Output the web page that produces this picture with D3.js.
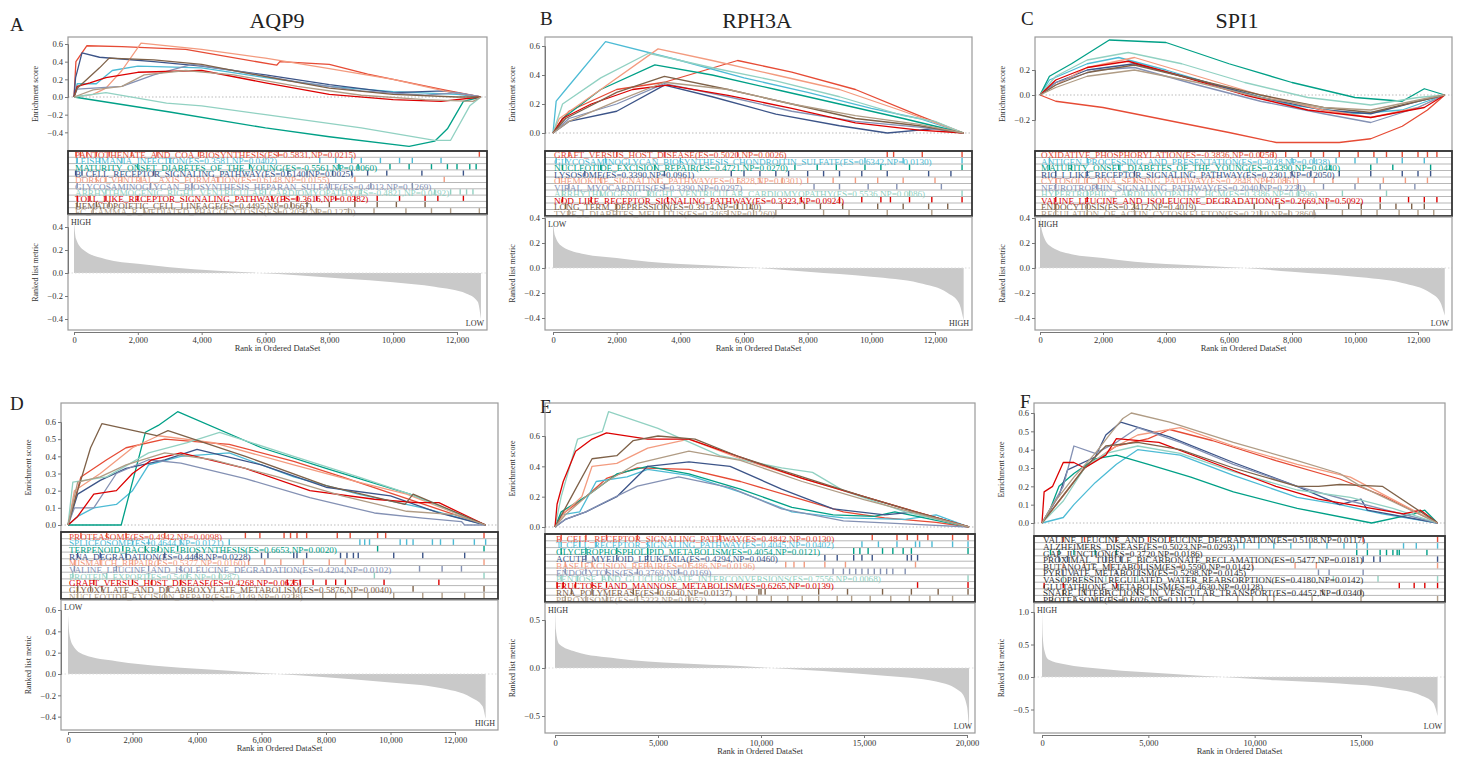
<!DOCTYPE html>
<html>
<head>
<meta charset="utf-8">
<script src="https://cdn.jsdelivr.net/npm/d3@7"></script>
<style>
body { margin: 0; background: #fff; }
svg { font-family: "Liberation Serif", "Times New Roman", serif; }
.axis text { font-size: 8.5px; fill: #333; font-family: "Liberation Serif", serif; }
.axis path, .axis line { stroke: #777; }
</style>
</head>
<body>
<svg id="fig" width="1465" height="769"></svg>
<script>
// npg palette, one colour per gene set row
var setColors = ["#E64B35", "#4DBBD5", "#00A087", "#3C5488", "#F39B7F", "#8491B4", "#91D1C2", "#DC0000", "#7E6148", "#B09C85"];

var rankTicks12k = [0, 2000, 4000, 6000, 8000, 10000, 12000];
var rankTicks20k = [0, 5000, 10000, 15000, 20000];
var rankTicks15k = [0, 5000, 10000, 15000];
var esTicksA = [-0.4, -0.2, 0, 0.2, 0.4, 0.6];
var esTicksB = [0, 0.2, 0.4, 0.6];
var esTicksC = [-0.2, 0, 0.2];
var esTicksD = [0, 0.1, 0.2, 0.3, 0.4, 0.5, 0.6];
var esTicksE = [0, 0.2, 0.4, 0.6];
var esTicksF = [0, 0.1, 0.2, 0.3, 0.4, 0.5, 0.6];
var metTicks4 = [-0.4, -0.2, 0, 0.2, 0.4];
var metTicksD = [-0.4, -0.2, 0, 0.2, 0.4, 0.6];
var metTicksE = [-0.5, 0, 0.5];
var metTicksF = [-0.5, 0, 0.5, 1.0];

// ---------- A: AQP9 ----------
var aqp9Sets = [
    "PANTOTHENATE_AND_COA_BIOSYNTHESIS(ES=0.5831,NP=0.0215)",
    "LEISHMANIA_INFECTION(ES=0.3581,NP=0.0402)",
    "MATURITY_ONSET_DIABETES_OF_THE_YOUNG(ES=-0.5561,NP=0.0060)",
    "B_CELL_RECEPTOR_SIGNALING_PATHWAY(ES=0.5140,NP=0.0025)",
    "DORSO_VENTRAL_AXIS_FORMATION(ES=0.6148,NP=0.0155)",
    "GLYCOSAMINOGLYCAN_BIOSYNTHESIS_HEPARAN_SULFATE(ES=0.4013,NP=0.1269)",
    "ARRHYTHMOGENIC_RIGHT_VENTRICULAR_CARDIOMYOPATHY(ES=-0.4821,NP=0.0492)",
    "TOLL_LIKE_RECEPTOR_SIGNALING_PATHWAY(ES=0.3616,NP=0.0382)",
    "HEMATOPOIETIC_CELL_LINEAGE(ES=0.4495,NP=0.0667)",
    "FC_GAMMA_R_MEDIATED_PHAGOCYTOSIS(ES=0.3053,NP=0.1270)"
];
var aqp9Curves = [
    [[0,0],[60,0.4],[400,0.58],[1500,0.57],[3500,0.54],[6350,0.36],[6450,0.40],[8000,0.37],[9200,0.26],[10000,0.2],[11600,0.08],[12750,0]],
    [[0,0],[100,0.15],[700,0.15],[1200,0.3],[2000,0.35],[4000,0.33],[6000,0.22],[8000,0.12],[10000,0.06],[12000,0.03],[12750,0]],
    [[0,0],[3000,-0.17],[6000,-0.35],[8000,-0.45],[10500,-0.56],[11300,-0.5],[11700,-0.36],[12200,-0.05],[12750,0]],
    [[0,0],[50,0.22],[250,0.5],[800,0.45],[2500,0.4],[4000,0.35],[6000,0.25],[8000,0.14],[10000,0.05],[11600,0.07],[12750,0]],
    [[0,0],[600,0.03],[1000,0.1],[1500,0.3],[2100,0.61],[4000,0.54],[6000,0.44],[8000,0.32],[10000,0.2],[11600,0.07],[12750,0]],
    [[0,0],[100,0.09],[1500,0.12],[2500,0.25],[3700,0.37],[5000,0.3],[7000,0.17],[9000,0.07],[11000,0.02],[12000,0.05],[12750,0]],
    [[0,0],[1000,0.05],[2900,-0.07],[4000,-0.1],[6000,-0.2],[9000,-0.35],[11300,-0.49],[11800,-0.49],[12400,-0.1],[12750,0]],
    [[0,0],[100,0.12],[500,0.16],[1000,0.22],[2000,0.28],[4000,0.3],[6000,0.16],[8000,0.03],[10000,-0.03],[11500,-0.05],[12750,0]],
    [[0,0],[100,0.1],[800,0.33],[1100,0.44],[2500,0.42],[4000,0.37],[6000,0.23],[8000,0.1],[10000,0.03],[12000,0.0],[12750,0]],
    [[0,0],[600,0.08],[1500,0.12],[2200,0.25],[3500,0.3],[5000,0.25],[7000,0.12],[9000,0.02],[11000,-0.03],[12500,-0.05],[12750,0]]
];
var aqp9Hits = [
    [60, 200, 400, 700, 1100, 1800, 2600, 3900, 6400, 12700],
    [100, 800, 1500, 3000, 7700, 8200, 8700, 9000, 9600, 10200, 10600, 11500],
    [2000, 5500, 8300, 8900, 9900, 10500, 11200, 11700, 12000, 12400, 12600],
    [50, 250, 2500, 6700, 7300, 8100, 8700, 9200, 9800, 10900, 12200],
    [700, 1000, 1500, 2100, 4500, 8800, 11600],
    [100, 2400, 3700, 8000, 9300, 10600],
    [1000, 6000, 9000, 11300, 11800, 12100, 12300, 12500],
    [100, 500, 1000, 2000, 6200, 6600, 7000, 7600, 8200, 8800, 9500, 10200, 11000, 11400, 12200],
    [100, 700, 1100, 6800, 7300, 8000, 8800, 9500, 10100, 11000],
    [600, 2200, 6400, 7200, 7600, 8600, 9400, 10400, 11200, 11800, 12700]
];
var aqp9Metric = [[0,0.44],[60,0.3],[300,0.2],[1000,0.12],[2000,0.08],[3000,0.05],[4500,0.02],[5800,0.0],[7000,-0.02],[8500,-0.05],[10000,-0.08],[11300,-0.12],[12300,-0.18],[12650,-0.25],[12750,-0.4]];

// ---------- B: RPH3A ----------
var rph3aSets = [
    "GRAFT_VERSUS_HOST_DISEASE(ES=0.5020,NP=0.0026)",
    "GLYCOSAMINOGLYCAN_BIOSYNTHESIS_CHONDROITIN_SULFATE(ES=0.6342,NP=0.0130)",
    "NUCLEOTIDE_EXCISION_REPAIR(ES=0.4721,NP=0.0270)",
    "LYSOSOME(ES=0.3390,NP=0.0961)",
    "CHEMOKINE_SIGNALING_PATHWAY(ES=0.5828,NP=0.0301)",
    "VIRAL_MYOCARDITIS(ES=0.3390,NP=0.0297)",
    "ARRHYTHMOGENIC_RIGHT_VENTRICULAR_CARDIOMYOPATHY(ES=0.5536,NP=0.0086)",
    "NOD_LIKE_RECEPTOR_SIGNALING_PATHWAY(ES=0.3323,NP=0.0924)",
    "LONG_TERM_DEPRESSION(ES=0.3914,NP=0.1140)",
    "TYPE_I_DIABETES_MELLITUS(ES=0.3465,NP=0.1260)"
];
var rph3aCurves = [
    [[0,0],[500,0.15],[2000,0.3],[3500,0.35],[5800,0.5],[7500,0.42],[9500,0.3],[11500,0.12],[12900,0]],
    [[0,0],[100,0.22],[400,0.3],[1650,0.63],[4000,0.5],[6000,0.38],[8000,0.28],[10000,0.17],[11500,0.1],[12900,0]],
    [[0,0],[300,0.1],[1500,0.3],[3200,0.47],[5000,0.4],[7000,0.3],[9000,0.2],[11000,0.1],[12900,0]],
    [[0,0],[500,0.08],[2000,0.15],[3500,0.33],[5000,0.25],[7000,0.13],[9000,0.05],[10500,0.0],[12000,0.03],[12900,0]],
    [[0,0],[200,0.1],[1500,0.3],[3300,0.58],[5000,0.5],[7000,0.4],[9000,0.3],[11000,0.15],[12900,0]],
    [[0,0],[500,0.1],[2000,0.2],[3500,0.34],[5500,0.25],[7500,0.15],[9500,0.08],[11500,0.04],[12900,0]],
    [[0,0],[300,0.2],[1500,0.38],[3000,0.55],[5000,0.45],[7000,0.36],[9000,0.25],[11000,0.12],[12000,0.08],[12900,0]],
    [[0,0],[300,0.1],[1200,0.2],[2500,0.3],[3600,0.33],[5500,0.26],[7500,0.17],[9500,0.07],[11500,0.02],[12900,0]],
    [[0,0],[400,0.1],[2000,0.28],[3500,0.39],[5500,0.3],[7500,0.2],[9500,0.1],[11500,0.05],[12900,0]],
    [[0,0],[500,0.08],[2000,0.22],[3500,0.35],[5500,0.3],[7500,0.2],[9500,0.12],[11500,0.06],[12900,0]]
];
var rph3aHits = [
    [500, 2000, 3500, 5800, 10500, 10700, 11600, 12850],
    [100, 400, 1650, 4000, 9800, 11000, 12850],
    [300, 1500, 3200, 7600, 8300, 8900, 9800, 10300, 11200, 12850],
    [1000, 3500, 5600, 6000, 6500, 7000, 7400, 8000, 8500, 9000, 9700, 10500, 11800, 12500],
    [200, 1500, 3300, 5800, 6500, 7200, 8000, 8800, 9500, 10200, 11000, 12000],
    [500, 3500, 8200, 9000, 9900, 10800, 12200],
    [300, 1500, 3000, 11200, 12850],
    [300, 1200, 3600, 7800, 9000, 9700, 10300, 10600, 11200, 11900, 12850],
    [400, 2000, 3500, 5800, 6200, 7200, 7900, 8400, 9100, 10200, 11000, 11800, 12400],
    [500, 2000, 3500, 5500, 6300, 7000, 8500, 9300, 10500, 11900]
];
var rph3aMetric = [[0,0.36],[60,0.26],[300,0.17],[1000,0.11],[2000,0.08],[3000,0.05],[5000,0.02],[6500,0.0],[8000,-0.03],[10000,-0.07],[11500,-0.12],[12400,-0.2],[12750,-0.28],[12900,-0.42]];

// ---------- C: SPI1 ----------
var spi1Sets = [
    "OXIDATIVE_PHOSPHORYLATION(ES=-0.3836,NP=0.0256)",
    "ANTIGEN_PROCESSING_AND_PRESENTATION(ES=0.3028,NP=0.0438)",
    "MATURITY_ONSET_DIABETES_OF_THE_YOUNG(ES=0.4390,NP=0.0440)",
    "RIG_I_LIKE_RECEPTOR_SIGNALING_PATHWAY(ES=0.2301,NP=0.2050)",
    "CYTOSOLIC_DNA_SENSING_PATHWAY(ES=0.2848,NP=0.0861)",
    "NEUROTROPHIN_SIGNALING_PATHWAY(ES=0.2040,NP=0.2231)",
    "HYPERTROPHIC_CARDIOMYOPATHY_HCM(ES=0.3386,NP=0.0596)",
    "VALINE_LEUCINE_AND_ISOLEUCINE_DEGRADATION(ES=0.2669,NP=0.5092)",
    "ENDOCYTOSIS(ES=0.2412,NP=0.4019)",
    "REGULATION_OF_ACTIN_CYTOSKELETON(ES=0.2110,NP=0.2860)"
];
var spi1Curves = [
    [[0,0],[500,-0.05],[2000,-0.1],[4000,-0.2],[6000,-0.3],[7500,-0.38],[9500,-0.38],[10500,-0.35],[11500,-0.25],[12300,-0.12],[12850,0]],
    [[0,0],[300,0.12],[1500,0.25],[2500,0.3],[4000,0.2],[6000,0.05],[8000,-0.08],[10000,-0.15],[11500,-0.12],[12850,0]],
    [[0,0],[300,0.15],[1000,0.25],[2200,0.44],[4000,0.42],[6000,0.25],[8000,0.1],[10000,-0.02],[11500,-0.05],[12200,0.05],[12850,0]],
    [[0,0],[500,0.1],[1500,0.2],[3000,0.25],[5000,0.12],[7000,-0.02],[9000,-0.12],[10500,-0.15],[12000,-0.05],[12850,0]],
    [[0,0],[500,0.08],[1500,0.22],[3000,0.3],[5000,0.15],[7000,0.0],[9000,-0.12],[10500,-0.18],[12000,-0.1],[12850,0]],
    [[0,0],[500,0.1],[1800,0.2],[3000,0.22],[5000,0.08],[7000,-0.05],[9000,-0.15],[10500,-0.22],[12000,-0.1],[12850,0]],
    [[0,0],[500,0.15],[1500,0.28],[2800,0.34],[4500,0.25],[6500,0.1],[8500,-0.02],[10500,-0.08],[12000,-0.02],[12850,0]],
    [[0,0],[500,0.12],[1500,0.22],[2800,0.27],[4500,0.15],[6500,0.0],[8500,-0.12],[10500,-0.18],[12200,-0.1],[12850,0]],
    [[0,0],[500,0.08],[1500,0.18],[3000,0.24],[5000,0.12],[7000,0.0],[9000,-0.1],[10500,-0.14],[12000,-0.05],[12850,0]],
    [[0,0],[500,0.06],[1500,0.15],[3000,0.2],[5000,0.1],[7000,-0.02],[9000,-0.1],[10500,-0.12],[12200,-0.03],[12850,0]]
];
var spi1Hits = [
    [7000, 7400, 7800, 8200, 8600, 9000, 9500, 10100, 10600, 11000, 11500, 12000, 12300, 12600],
    [300, 1500, 8000, 8700, 9400, 10000, 10700, 11500, 12200],
    [300, 1000, 2500, 9200, 10500, 11200, 12400],
    [500, 1500, 3000, 8000, 8600, 9500, 10500, 11500, 12000, 12400],
    [500, 1500, 3000, 7200, 7800, 8700, 9300, 10100, 10900, 11600, 12300],
    [500, 1800, 7000, 8200, 9000, 10000, 10800, 11900],
    [500, 1500, 2800, 8200, 9600, 11000],
    [500, 1500, 10800, 11700, 12200, 12600],
    [500, 1500, 3000, 6800, 7600, 8400, 9100, 9800, 10200, 10800, 11300, 11800, 12200],
    [500, 1500, 3000, 7000, 7900, 8700, 9600, 10200, 10700, 11400, 12000, 12500]
];
var spi1Metric = [[0,0.42],[60,0.3],[300,0.18],[1000,0.11],[2000,0.08],[3000,0.05],[5000,0.02],[6500,0.0],[8000,-0.03],[10000,-0.07],[11500,-0.12],[12400,-0.2],[12700,-0.27],[12850,-0.38]];

// ---------- D ----------
var dSets = [
    "PROTEASOME(ES=0.4942,NP=0.0098)",
    "SPLICEOSOME(ES=0.4644,NP=0.0121)",
    "TERPENOID_BACKBONE_BIOSYNTHESIS(ES=0.6653,NP=0.0020)",
    "RNA_DEGRADATION(ES=0.4468,NP=0.0228)",
    "MISMATCH_REPAIR(ES=0.5377,NP=0.0160)",
    "VALINE_LEUCINE_AND_ISOLEUCINE_DEGRADATION(ES=0.4204,NP=0.0102)",
    "PROTEIN_EXPORT(ES=0.5405,NP=0.0287)",
    "GRAFT_VERSUS_HOST_DISEASE(ES=0.4268,NP=0.0625)",
    "GLYOXYLATE_AND_DICARBOXYLATE_METABOLISM(ES=0.5876,NP=0.0040)",
    "NUCLEOTIDE_EXCISION_REPAIR(ES=0.4149,NP=0.0328)"
];
var dCurves = [
    [[0,0],[400,0.28],[1200,0.38],[1800,0.45],[3000,0.5],[5000,0.47],[7000,0.37],[8500,0.28],[12950,0]],
    [[0,0],[300,0.05],[800,0.1],[1500,0.12],[2000,0.2],[2500,0.35],[3500,0.4],[5000,0.42],[7000,0.28],[9000,0.18],[11000,0.1],[12950,0]],
    [[0,0],[1650,0],[2400,0.54],[2800,0.58],[3400,0.66],[6000,0.45],[8000,0.33],[10600,0.18],[12950,0]],
    [[0,0],[300,0.18],[1000,0.26],[1800,0.33],[3000,0.38],[4000,0.44],[6000,0.35],[8000,0.22],[10000,0.17],[11500,0.07],[12950,0]],
    [[0,0],[200,0.2],[1000,0.3],[2000,0.45],[2800,0.52],[4500,0.48],[7000,0.35],[9000,0.25],[10500,0.18],[12950,0]],
    [[0,0],[200,0.1],[800,0.1],[1500,0.3],[2500,0.38],[3500,0.36],[5500,0.27],[7500,0.16],[9500,0.07],[11000,0.04],[12200,0.02],[12300,0],[12950,0]],
    [[0,0],[150,0.25],[1200,0.28],[2500,0.42],[3700,0.48],[4700,0.54],[7000,0.4],[9000,0.28],[10600,0.18],[12950,0]],
    [[0,0],[300,0.05],[800,0.18],[1500,0.2],[2000,0.3],[2600,0.38],[3500,0.42],[5500,0.33],[7500,0.2],[9500,0.15],[10800,0.13],[11500,0.13],[12950,0]],
    [[0,0],[300,0.2],[700,0.45],[1050,0.59],[2750,0.52],[3100,0.55],[5500,0.4],[8000,0.23],[10450,0.12],[10700,0.18],[12950,0]],
    [[0,0],[300,0.25],[1000,0.28],[1800,0.35],[3000,0.42],[4500,0.38],[6500,0.28],[8500,0.17],[10500,0.08],[12000,0.06],[12950,0]]
];
var dHits = [
    [400, 1200, 1800, 3000, 5500, 5950, 6700, 6900, 7100, 7400, 8350, 8750, 9600, 9850, 12900],
    [2000, 2500, 3500, 5000, 9050, 9200, 9350, 10300, 10500, 10700, 11300, 11550, 11950, 12600, 12950],
    [1700, 2400, 2800, 3400, 9600, 12900],
    [300, 1000, 1800, 3000, 4000, 6000, 6200, 7000, 7100, 7400, 8450, 8650, 8850, 9000, 10100, 11000, 12300],
    [200, 1000, 2000, 2800, 5600, 6100, 6600, 7300, 8100, 8600, 12900],
    [200, 1500, 2500, 3500, 10900, 11600, 12200],
    [150, 1200, 2500, 3700, 4700, 9500, 12900],
    [800, 2000, 2600, 3500, 6800, 7000, 7200, 7600, 8000, 8300, 8600, 9800, 11500],
    [300, 700, 1050, 3100, 10700, 12900],
    [300, 1800, 3000, 7000, 7900, 8300, 8800, 9300, 10100, 11000, 11600, 12300, 12900]
];
var dMetric = [[0,0.55],[40,0.38],[150,0.27],[500,0.18],[1500,0.12],[3000,0.07],[5000,0.03],[6500,0.0],[8000,-0.03],[10000,-0.08],[11500,-0.13],[12500,-0.22],[12850,-0.3],[12950,-0.42]];

// ---------- E ----------
var eSets = [
    "B_CELL_RECEPTOR_SIGNALING_PATHWAY(ES=0.4842,NP=0.0130)",
    "T_CELL_RECEPTOR_SIGNALING_PATHWAY(ES=0.4045,NP=0.0402)",
    "GLYCEROPHOSPHOLIPID_METABOLISM(ES=0.4054,NP=0.0121)",
    "ACUTE_MYELOID_LEUKEMIA(ES=0.4294,NP=0.0460)",
    "BASE_EXCISION_REPAIR(ES=0.5486,NP=0.0196)",
    "ENDOCYTOSIS(ES=0.3769,NP=0.0169)",
    "PENTOSE_AND_GLUCURONATE_INTERCONVERSIONS(ES=0.7556,NP=0.0068)",
    "FRUCTOSE_AND_MANNOSE_METABOLISM(ES=0.6265,NP=0.0139)",
    "RNA_POLYMERASE(ES=0.6040,NP=0.0137)",
    "PEROXISOME(ES=0.5323,NP=0.0052)"
];
var eCurves = [
    [[0,0],[300,0.08],[1500,0.2],[2500,0.32],[4000,0.39],[6500,0.38],[9000,0.3],[12000,0.18],[14000,0.1],[16000,0.06],[18500,0.03],[20100,0]],
    [[0,0],[300,0.08],[1200,0.1],[2000,0.3],[3500,0.33],[4500,0.38],[6500,0.34],[9000,0.23],[11500,0.1],[14000,0.06],[17000,0.05],[18500,0.08],[20100,0]],
    [[0,0],[300,0.1],[1500,0.2],[3000,0.35],[4500,0.4],[6500,0.35],[9000,0.25],[11500,0.13],[13500,0.08],[15500,0.07],[16500,0.1],[20100,0]],
    [[0,0],[500,0.05],[1500,0.1],[3000,0.2],[4500,0.4],[6500,0.43],[8500,0.4],[11000,0.25],[13500,0.12],[16000,0.08],[17500,0.1],[20100,0]],
    [[0,0],[500,0.1],[1300,0.2],[1800,0.4],[3000,0.42],[4500,0.52],[6500,0.58],[9000,0.45],[12000,0.32],[15000,0.2],[20100,0]],
    [[0,0],[500,0.05],[1500,0.1],[2500,0.17],[4000,0.27],[6000,0.33],[8500,0.26],[11000,0.12],[14000,0.04],[17000,0.02],[20100,0]],
    [[0,0],[300,0.2],[1100,0.58],[2300,0.63],[2600,0.76],[5000,0.65],[8000,0.47],[11000,0.39],[12500,0.36],[14000,0.24],[17000,0.1],[20100,0]],
    [[0,0],[100,0.15],[400,0.3],[1000,0.5],[1800,0.58],[2500,0.62],[4500,0.58],[6500,0.58],[9000,0.46],[12000,0.32],[15000,0.2],[17500,0.1],[20100,0]],
    [[0,0],[800,0.2],[1800,0.45],[3000,0.47],[3800,0.57],[5000,0.6],[6800,0.58],[9000,0.46],[12000,0.33],[15000,0.2],[17500,0.1],[20100,0]],
    [[0,0],[500,0.08],[1500,0.2],[2500,0.3],[4000,0.42],[6500,0.5],[9000,0.44],[12000,0.3],[15000,0.18],[20100,0]]
];
var eHits = [
    [300, 1500, 2500, 4000, 8000, 15400, 16600, 17100, 17600, 18100, 19300, 20050],
    [300, 1200, 2000, 4500, 14900, 15700, 16600, 17500, 17700, 18300, 19300, 20050],
    [300, 1500, 3000, 4500, 14500, 14800, 15200, 15900, 16400, 16900, 17300, 20050],
    [1500, 3000, 4500, 13100, 13700, 14500, 14900, 15400, 17100, 17300, 17600],
    [500, 1300, 1800, 4500, 6500, 11200, 11600, 12100, 13100, 14100, 17500],
    [500, 1500, 2500, 4000, 6000, 13500, 14000, 14300, 14600, 14900, 15200, 15500, 15800, 16100, 16400, 17000],
    [300, 1100, 2300, 2600, 20050],
    [100, 400, 1000, 1800, 2500, 17600, 20050],
    [800, 1800, 3800, 5000, 9900, 10000, 10200, 12800, 14200, 15900, 17300, 18600, 20050],
    [500, 1500, 2500, 4000, 6500, 8800, 9300, 9800, 10500, 11300, 12000, 12800, 13700, 14400, 15300, 16300, 17200, 18200, 19300]
];
var eMetric = [[0,0.62],[40,0.4],[200,0.25],[1000,0.17],[3000,0.1],[6000,0.05],[9000,0.02],[10500,0],[13000,-0.03],[16000,-0.08],[18500,-0.14],[19700,-0.25],[20000,-0.4],[20100,-0.65]];

// ---------- F ----------
var fSets = [
    "VALINE_LEUCINE_AND_ISOLEUCINE_DEGRADATION(ES=0.5108,NP=0.0117)",
    "ALZHEIMERS_DISEASE(ES=0.5023,NP=0.0293)",
    "GAP_JUNCTION(ES=0.3720,NP=0.0186)",
    "PROXIMAL_TUBULE_BICARBONATE_RECLAMATION(ES=0.5477,NP=0.0181)",
    "BUTANOATE_METABOLISM(ES=0.5590,NP=0.0142)",
    "PYRUVATE_METABOLISM(ES=0.5298,NP=0.0145)",
    "VASOPRESSIN_REGULATED_WATER_REABSORPTION(ES=0.4180,NP=0.0142)",
    "GLUTATHIONE_METABOLISM(ES=0.4630,NP=0.0128)",
    "SNARE_INTERACTIONS_IN_VESICULAR_TRANSPORT(ES=0.4452,NP=0.0340)",
    "PROTEASOME(ES=0.6026,NP=0.1117)"
];
var fCurves = [
    [[0,0],[1000,0.15],[2000,0.3],[3500,0.42],[5000,0.46],[6000,0.51],[8000,0.45],[11000,0.34],[14000,0.24],[16000,0.15],[18600,0]],
    [[0,0],[1000,0.03],[1500,0.1],[2500,0.22],[3500,0.32],[4500,0.4],[6500,0.37],[9000,0.26],[12000,0.14],[14000,0.1],[16000,0.05],[18600,0]],
    [[0,0],[400,0.08],[800,0.2],[1500,0.27],[2500,0.35],[3500,0.37],[5000,0.32],[7000,0.25],[9000,0.17],[12000,0.08],[15500,0.0],[17500,0.05],[18000,0.07],[18600,0]],
    [[0,0],[800,0.15],[1200,0.29],[2500,0.36],[3000,0.48],[3700,0.55],[6000,0.47],[9000,0.33],[12000,0.2],[14000,0.1],[15000,0.13],[15300,0.07],[18600,0]],
    [[0,0],[1000,0.15],[2000,0.3],[3200,0.4],[4500,0.48],[6500,0.52],[9000,0.42],[12000,0.32],[14500,0.25],[18600,0]],
    [[0,0],[1000,0.2],[1500,0.42],[2500,0.38],[3500,0.44],[4500,0.52],[6500,0.44],[9000,0.32],[12000,0.2],[14500,0.12],[18600,0]],
    [[0,0],[1000,0.12],[2000,0.3],[3000,0.38],[4500,0.42],[6500,0.38],[9000,0.28],[12000,0.18],[14500,0.14],[16500,0.08],[18600,0]],
    [[0,0],[100,0.17],[500,0.2],[1000,0.33],[1500,0.33],[2000,0.3],[3000,0.37],[3500,0.46],[5500,0.44],[8000,0.33],[11000,0.2],[13000,0.13],[15500,0.08],[17000,0.05],[17800,0.07],[18600,0]],
    [[0,0],[1000,0.15],[2000,0.3],[3000,0.42],[4500,0.44],[6500,0.4],[9000,0.3],[12000,0.2],[13000,0.2],[14000,0.21],[16000,0.2],[18600,0]],
    [[0,0],[500,0.1],[1500,0.25],[2500,0.38],[3300,0.5],[3800,0.57],[4200,0.6],[6000,0.55],[9000,0.44],[12000,0.34],[14000,0.27],[15000,0.2],[18600,0]]
];
var fHits = [
    [1000, 2000, 3500, 5000, 6000, 15100, 18600],
    [9200, 9500, 10200, 10900, 11700, 12600, 13400, 14200, 14800, 15300, 17000, 17600, 18600],
    [400, 800, 1500, 2500, 3500, 14800, 15300, 15900, 16200, 16500, 16700, 16800, 18100],
    [800, 1200, 3000, 3700, 15100, 15600, 15900, 18600],
    [1000, 2000, 3200, 4500, 6500, 9900, 11900, 12900, 18600],
    [1000, 1500, 3500, 4500, 13000, 13500, 15100],
    [1000, 2000, 3000, 4500, 13700, 15800, 18600],
    [100, 1000, 3500, 16800, 17500, 18000, 18600],
    [1000, 2000, 3000, 4500, 13200, 14000, 15000],
    [500, 1500, 2500, 3300, 3800, 4200, 7570, 9200, 9900, 10600, 10900, 12700, 15000, 18600]
];
var fMetric = [[0,1.0],[40,0.6],[120,0.4],[300,0.27],[1000,0.2],[3000,0.12],[6000,0.05],[8500,0.0],[11000,-0.05],[14000,-0.1],[16500,-0.18],[17800,-0.28],[18400,-0.4],[18600,-0.6]];

// layout of the six panels
var panels = [
    { letter: "A", letterX: 10, letterY: 31, title: "AQP9", titleX: 277, titleY: 28,
      left: 68, right: 487, esTop: 37, legTop: 151, legBottom: 214, metBottom: 330,
      xRef: [0, 12000], xPix: [74, 457], esRef: [0, 0.6], esPix: [97, 44], metRef: [0, 0.4], metPix: [273, 227],
      esTicks: esTicksA, metTicks: metTicks4, xTicks: rankTicks12k,
      names: aqp9Sets, curves: aqp9Curves, hits: aqp9Hits, metric: aqp9Metric, tagTop: "HIGH", tagBottom: "LOW", textColor: null },
    { letter: "B", letterX: 540, letterY: 25, title: "RPH3A", titleX: 757, titleY: 28,
      left: 545, right: 972, esTop: 37, legTop: 151, legBottom: 216, metBottom: 330,
      xRef: [0, 12000], xPix: [553, 935], esRef: [0, 0.6], esPix: [133, 46], metRef: [0, 0.4], metPix: [268, 218],
      esTicks: esTicksB, metTicks: metTicks4, xTicks: rankTicks12k,
      names: rph3aSets, curves: rph3aCurves, hits: rph3aHits, metric: rph3aMetric, tagTop: "LOW", tagBottom: "HIGH", textColor: null },
    { letter: "C", letterX: 1021, letterY: 25, title: "SPI1", titleX: 1237, titleY: 28,
      left: 1035, right: 1452, esTop: 37, legTop: 151, legBottom: 216, metBottom: 330,
      xRef: [0, 12000], xPix: [1040, 1418], esRef: [-0.2, 0.2], esPix: [120, 70], metRef: [0, 0.4], metPix: [268, 218],
      esTicks: esTicksC, metTicks: metTicks4, xTicks: rankTicks12k,
      names: spi1Sets, curves: spi1Curves, hits: spi1Hits, metric: spi1Metric, tagTop: "HIGH", tagBottom: "LOW", textColor: null },
    { letter: "D", letterX: 10, letterY: 410, title: "", titleX: 0, titleY: 0,
      left: 61, right: 498, esTop: 403, legTop: 532, legBottom: 599, metBottom: 730,
      xRef: [0, 12000], xPix: [68, 455], esRef: [0, 0.6], esPix: [525, 422], metRef: [0, 0.6], metPix: [674, 610],
      esTicks: esTicksD, metTicks: metTicksD, xTicks: rankTicks12k,
      names: dSets, curves: dCurves, hits: dHits, metric: dMetric, tagTop: "LOW", tagBottom: "HIGH", textColor: null },
    { letter: "E", letterX: 540, letterY: 413, title: "", titleX: 0, titleY: 0,
      left: 545, right: 975, esTop: 403, legTop: 534, legBottom: 602, metBottom: 733,
      xRef: [0, 20000], xPix: [555, 967], esRef: [0, 0.6], esPix: [527, 436], metRef: [0, 0.5], metPix: [668, 620],
      esTicks: esTicksE, metTicks: metTicksE, xTicks: rankTicks20k,
      names: eSets, curves: eCurves, hits: eHits, metric: eMetric, tagTop: "HIGH", tagBottom: "LOW", textColor: null },
    { letter: "F", letterX: 1020, letterY: 408, title: "", titleX: 0, titleY: 0,
      left: 1034, right: 1445, esTop: 403, legTop: 536, legBottom: 602, metBottom: 733,
      xRef: [0, 15000], xPix: [1042, 1361], esRef: [0, 0.6], esPix: [523, 413], metRef: [0, 1.0], metPix: [677, 612],
      esTicks: esTicksF, metTicks: metTicksF, xTicks: rankTicks15k,
      names: fSets, curves: fCurves, hits: fHits, metric: fMetric, tagTop: "HIGH", tagBottom: "LOW", textColor: "#333" }
];

var svg = d3.select("#fig");

function drawPanel(p) {
    var g = svg.append("g");
    var x = d3.scaleLinear().domain(p.xRef).range(p.xPix);
    var yEs = d3.scaleLinear().domain(p.esRef).range(p.esPix);
    var yMet = d3.scaleLinear().domain(p.metRef).range(p.metPix);
    var w = p.right - p.left;
    var metTop = p.legBottom + 1;

    g.append("text").attr("x", p.letterX).attr("y", p.letterY)
        .attr("font-size", 19).attr("fill", "#222").text(p.letter);
    if (p.title) {
        g.append("text").attr("x", p.titleX).attr("y", p.titleY).attr("text-anchor", "middle")
            .attr("font-size", 22).attr("fill", "#222").text(p.title);
    }

    // enrichment score panel
    g.append("line").attr("x1", p.left).attr("x2", p.right)
        .attr("y1", yEs(0)).attr("y2", yEs(0))
        .attr("stroke", "#bbb").attr("stroke-dasharray", "1.5,2");

    var line = d3.line().x(function (d) { return x(d[0]); }).y(function (d) { return yEs(d[1]); });
    g.selectAll(".es").data(p.curves).enter().append("path")
        .attr("class", "es")
        .attr("d", line)
        .attr("fill", "none")
        .attr("stroke", function (d, i) { return setColors[i]; })
        .attr("stroke-width", 1.3)
        .attr("stroke-linejoin", "round");

    g.append("rect").attr("x", p.left).attr("y", p.esTop).attr("width", w).attr("height", p.legTop - p.esTop)
        .attr("fill", "none").attr("stroke", "#9a9a9a").attr("stroke-width", 1.2);

    g.append("g").attr("class", "axis")
        .attr("transform", "translate(" + p.left + ",0)")
        .call(d3.axisLeft(yEs).tickValues(p.esTicks).tickFormat(d3.format(".1f")).tickSize(3).tickPadding(2));

    g.append("text")
        .attr("transform", "translate(" + (p.left - 30) + "," + ((p.esTop + p.legTop) / 2) + ") rotate(-90)")
        .attr("text-anchor", "middle").attr("font-size", 8).attr("fill", "#333")
        .text("Enrichment score");

    // hit / gene set box
    var rowH = (p.legBottom - p.legTop) / p.names.length;
    p.hits.forEach(function (row, i) {
        g.selectAll(null).data(row).enter().append("line")
            .attr("x1", function (d) { return x(d); }).attr("x2", function (d) { return x(d); })
            .attr("y1", p.legTop + i * rowH + 0.5).attr("y2", p.legTop + (i + 1) * rowH - 0.5)
            .attr("stroke", setColors[i]).attr("stroke-width", 1.4);
    });
    for (var k = 1; k < p.names.length; k++) {
        g.append("line").attr("x1", p.left).attr("x2", p.right)
            .attr("y1", p.legTop + k * rowH).attr("y2", p.legTop + k * rowH)
            .attr("stroke", "#9a9a9a").attr("stroke-width", 0.7);
    }
    g.selectAll(".setname").data(p.names).enter().append("text")
        .attr("class", "setname")
        .attr("x", p.xPix[0] + 1)
        .attr("y", function (d, i) { return p.legTop + (i + 1) * rowH + 0.8; })
        .attr("font-size", 9.2)
        .attr("fill", function (d, i) { return p.textColor || setColors[i]; })
        .text(function (d) { return d; });
    g.append("rect").attr("x", p.left).attr("y", p.legTop).attr("width", w).attr("height", p.legBottom - p.legTop)
        .attr("fill", "none").attr("stroke", "#333").attr("stroke-width", 1.8);

    // ranked list metric
    var area = d3.area()
        .x(function (d) { return x(d[0]); })
        .y0(yMet(0))
        .y1(function (d) { return yMet(d[1]); })
        .curve(d3.curveMonotoneX);
    g.append("path").datum(p.metric).attr("d", area).attr("fill", "#c9c9c9");
    g.append("line").attr("x1", p.left).attr("x2", p.right)
        .attr("y1", yMet(0)).attr("y2", yMet(0))
        .attr("stroke", "#ddd").attr("stroke-dasharray", "1.5,2");
    g.append("rect").attr("x", p.left).attr("y", metTop).attr("width", w).attr("height", p.metBottom - metTop)
        .attr("fill", "none").attr("stroke", "#9a9a9a").attr("stroke-width", 1.2);

    g.append("g").attr("class", "axis")
        .attr("transform", "translate(" + p.left + ",0)")
        .call(d3.axisLeft(yMet).tickValues(p.metTicks).tickFormat(d3.format(".1f")).tickSize(3).tickPadding(2));
    g.append("g").attr("class", "axis")
        .attr("transform", "translate(0," + (p.metBottom + 2) + ")")
        .call(d3.axisBottom(x).tickValues(p.xTicks).tickFormat(d3.format(",")).tickSize(3).tickPadding(2));

    g.append("text")
        .attr("transform", "translate(" + (p.left - 30) + "," + ((metTop + p.metBottom) / 2) + ") rotate(-90)")
        .attr("text-anchor", "middle").attr("font-size", 8).attr("fill", "#333")
        .text("Ranked list metric");
    g.append("text").attr("x", (p.left + p.right) / 2).attr("y", p.metBottom + 21)
        .attr("text-anchor", "middle").attr("font-size", 8.5).attr("fill", "#333")
        .text("Rank in Ordered DataSet");

    g.append("text").attr("x", p.left + 3).attr("y", metTop + 10)
        .attr("font-size", 8).attr("fill", "#333").text(p.tagTop);
    g.append("text").attr("x", p.right - 3).attr("y", p.metBottom - 4).attr("text-anchor", "end")
        .attr("font-size", 8).attr("fill", "#333").text(p.tagBottom);
}

panels.forEach(drawPanel);
</script>
</body>
</html>
